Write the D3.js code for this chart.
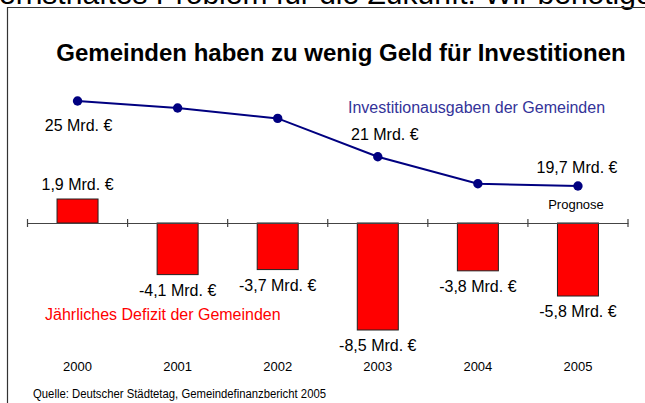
<!DOCTYPE html>
<html>
<head>
<meta charset="utf-8">
<script src="https://cdn.jsdelivr.net/npm/d3@7"></script>
<style>
    body { margin: 0; background: #fff; }
    svg { display: block; font-family: "Liberation Sans", Arial, sans-serif; }
</style>
</head>
<body>
<svg id="chart" width="645" height="403"></svg>
<script>
const years = ["2000", "2001", "2002", "2003", "2004", "2005"];
const deficit = [1.9, -4.1, -3.7, -8.5, -3.8, -5.8];
const deficitLabels = ["1,9 Mrd. €", "-4,1 Mrd. €", "-3,7 Mrd. €", "-8,5 Mrd. €", "-3,8 Mrd. €", "-5,8 Mrd. €"];
const invest = [25, 24.5, 23.75, 21, 19.8, 19.7];
const investLabels = ["25 Mrd. €", "", "", "21 Mrd. €", "", "19,7 Mrd. €"];

const svg = d3.select("#chart");
const width = 645;

// clipped line of slide text above the chart
svg.append("text")
    .attr("x", -1)
    .attr("y", 4)
    .attr("font-size", 30)
    .attr("fill", "#000")
    .text("ernsthaftes Problem für die Zukunft. Wir benötigen");

// frame
svg.append("path")
    .attr("d", `M7.5,${403}V7.5H${width + 2}`)
    .attr("fill", "none")
    .attr("stroke", "#333")
    .attr("stroke-width", 1.2);

svg.append("text")
    .attr("x", 341)
    .attr("y", 61)
    .attr("text-anchor", "middle")
    .attr("font-size", 24)
    .attr("font-weight", "bold")
    .text("Gemeinden haben zu wenig Geld für Investitionen");

const x = d3.scaleBand()
    .domain(years)
    .range([27.5, 628])
    .paddingInner(0)
    .paddingOuter(0);

const yBar = d3.scaleLinear()
    .domain([-8.5, 0, 1.9])
    .range([330, 223, 199]);

// the slide's line is not drawn on one even scale
const yLine = d3.scaleLinear()
    .domain([19.7, 21, 25])
    .range([186, 156.7, 101]);

const cx = (i) => x(years[i]) + x.bandwidth() / 2;
const barW = 41;

svg.selectAll("rect.bar")
    .data(deficit)
    .enter()
    .append("rect")
    .attr("class", "bar")
    .attr("x", (d, i) => cx(i) - barW / 2)
    .attr("y", (d) => Math.min(yBar(d), yBar(0)))
    .attr("width", barW)
    .attr("height", (d) => Math.abs(yBar(d) - yBar(0)))
    .attr("fill", "#ff0000")
    .attr("stroke", "#222")
    .attr("stroke-width", 1);

// zero axis with ticks crossing it
const axis = svg.append("g")
    .attr("transform", `translate(0,${yBar(0)})`)
    .call(d3.axisBottom(x).tickSize(0).tickFormat(""));
axis.select(".domain").attr("stroke", "#444").attr("stroke-width", 1.2);
const tickXs = years.map((y) => x(y)).concat([x.range()[1]]);
axis.selectAll("line.cross")
    .data(tickXs)
    .enter()
    .append("line")
    .attr("class", "cross")
    .attr("x1", (d) => d)
    .attr("x2", (d) => d)
    .attr("y1", -4)
    .attr("y2", 4)
    .attr("stroke", "#444")
    .attr("stroke-width", 1.2);

const line = d3.line()
    .x((d, i) => cx(i))
    .y((d) => yLine(d));

svg.append("path")
    .datum(invest)
    .attr("d", line)
    .attr("fill", "none")
    .attr("stroke", "#000080")
    .attr("stroke-width", 2);

svg.selectAll("circle.pt")
    .data(invest)
    .enter()
    .append("circle")
    .attr("class", "pt")
    .attr("cx", (d, i) => cx(i))
    .attr("cy", (d) => yLine(d))
    .attr("r", 4.7)
    .attr("fill", "#000080");

// line labels
const investOffsets = [[1, 30], null, null, [7, -17], null, [-1, -13]];
const investLabelData = invest
    .map((v, i) => ({ v, i, label: investLabels[i], off: investOffsets[i] }))
    .filter((d) => d.label !== "");
svg.selectAll("text.inv")
    .data(investLabelData)
    .enter()
    .append("text")
    .attr("class", "inv")
    .attr("x", (d) => cx(d.i) + d.off[0])
    .attr("y", (d) => yLine(d.v) + d.off[1])
    .attr("text-anchor", "middle")
    .attr("font-size", 16)
    .text((d) => d.label);

// bar labels
svg.selectAll("text.def")
    .data(deficit)
    .enter()
    .append("text")
    .attr("class", "def")
    .attr("x", (d, i) => cx(i))
    .attr("y", (d) => d >= 0 ? yBar(d) - 9 : yBar(d) + 21)
    .attr("text-anchor", "middle")
    .attr("font-size", 16)
    .text((d, i) => deficitLabels[i]);

svg.append("text")
    .attr("x", 576)
    .attr("y", 209)
    .attr("text-anchor", "middle")
    .attr("font-size", 13)
    .text("Prognose");

svg.append("text")
    .attr("x", 348)
    .attr("y", 113)
    .attr("font-size", 16)
    .attr("fill", "#333399")
    .text("Investitionausgaben der Gemeinden");

svg.append("text")
    .attr("x", 45)
    .attr("y", 320)
    .attr("font-size", 16)
    .attr("fill", "#ff0000")
    .text("Jährliches Defizit der Gemeinden");

svg.selectAll("text.year")
    .data(years)
    .enter()
    .append("text")
    .attr("class", "year")
    .attr("x", (d) => x(d) + x.bandwidth() / 2)
    .attr("y", 371)
    .attr("text-anchor", "middle")
    .attr("font-size", 13)
    .text((d) => d);

svg.append("text")
    .attr("x", 33)
    .attr("y", 398)
    .attr("font-size", 12)
    .attr("textLength", 293)
    .attr("lengthAdjust", "spacingAndGlyphs")
    .text("Quelle: Deutscher Städtetag, Gemeindefinanzbericht 2005");
</script>
</body>
</html>
